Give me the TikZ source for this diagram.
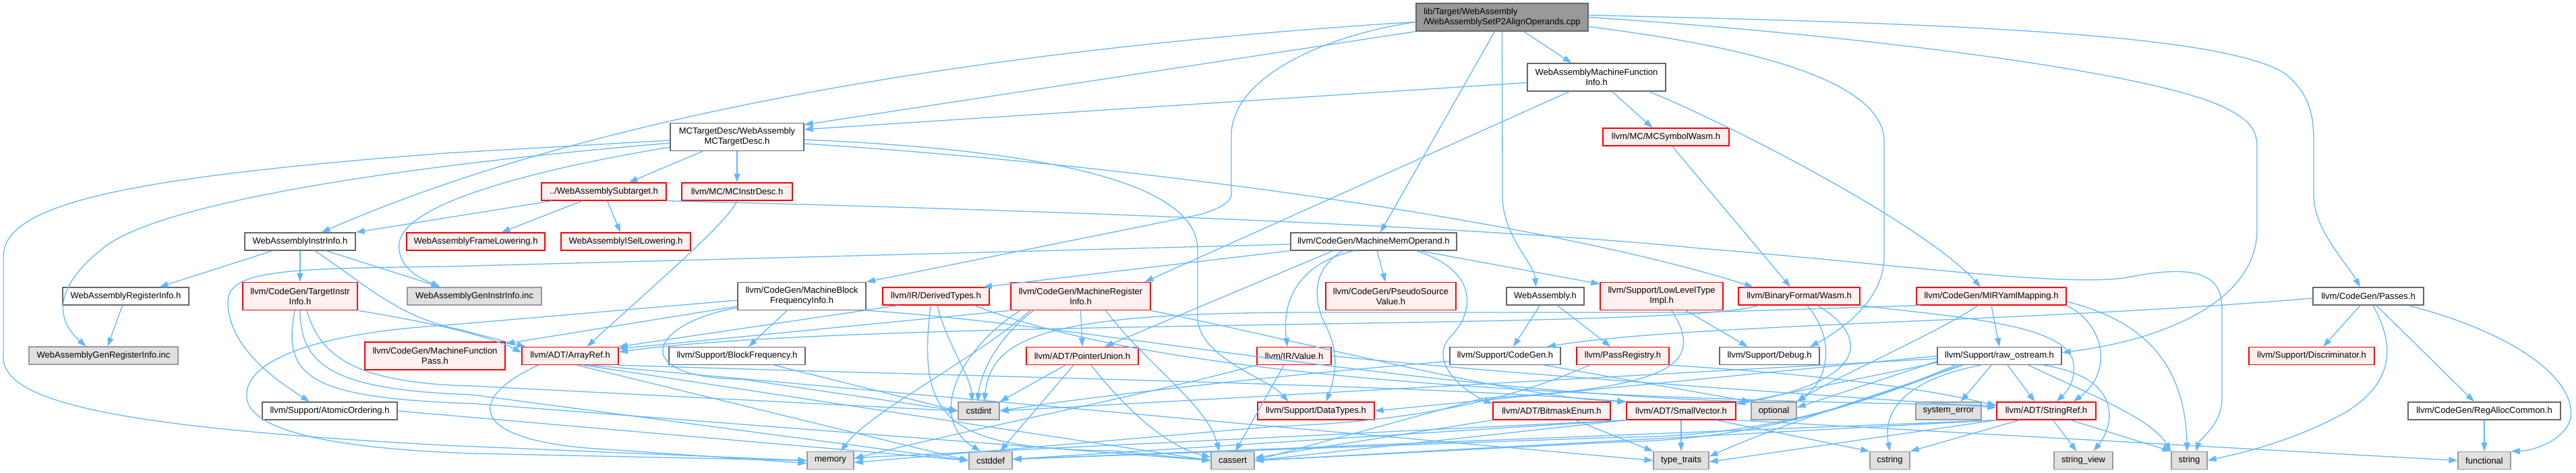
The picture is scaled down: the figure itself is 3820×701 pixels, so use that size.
\documentclass[tikz,border=0pt]{standalone}
\usepackage{fontspec}
\setmainfont{Liberation Sans}
\usetikzlibrary{arrows.meta}
\definecolor{edgeblue}{HTML}{63B8FF}
\definecolor{wborder}{HTML}{666666}
\definecolor{rfill}{HTML}{FFF0F0}
\definecolor{rborder}{HTML}{FF0000}
\definecolor{gfill}{HTML}{E0E0E0}
\definecolor{gborder}{HTML}{999999}
\definecolor{rootfill}{HTML}{999999}
\tikzset{
  box/.style={draw, line width=1.3pt, inner sep=0pt, minimum height=26pt, align=center,
    font=\fontsize{13}{15}\selectfont},
  wbox/.style={box, draw=wborder, fill=white},
  rbox/.style={box, draw=rborder, fill=rfill},
  gbox/.style={box, draw=gborder, fill=gfill},
  rootbox/.style={box, draw=wborder, fill=rootfill, align=left},
  two/.style={minimum height=41pt},
  dep/.style={draw=edgeblue, line width=1.3pt, -{Triangle[length=13pt,width=9pt]}}
}
\begin{document}
\begin{tikzpicture}[x=1pt,y=-1pt]
\fill[white] (0,0) rectangle (3820,701);
\useasboundingbox (0,0) rectangle (3820,701);

% nodes
\node[rootbox, two, minimum width=255pt] (root) at (2227.5,25.5) {lib/Target/WebAssembly\\/WebAssemblySetP2AlignOperands.cpp};
\node[wbox, two, minimum width=205pt] (wamfi) at (2367.5,114.5) {WebAssemblyMachineFunction\\Info.h};
\node[rbox, minimum width=187pt] (mcsym) at (2470.5,203) {llvm/MC/MCSymbolWasm.h};
\node[wbox, two, minimum width=198pt] (mctd) at (1093,203) {MCTargetDesc/WebAssembly\\MCTargetDesc.h};
\node[rbox, minimum width=185pt] (subt) at (895.5,284) {../WebAssemblySubtarget.h};
\node[rbox, minimum width=164pt] (mcid) at (1093,284) {llvm/MC/MCInstrDesc.h};
\node[wbox, minimum width=164pt] (instr) at (445,358) {WebAssemblyInstrInfo.h};
\node[rbox, minimum width=205pt] (frame) at (705.5,358) {WebAssemblyFrameLowering.h};
\node[rbox, minimum width=192pt] (isel) at (928,358) {WebAssemblyISelLowering.h};
\node[wbox, minimum width=187pt] (reginfo) at (186.5,439) {WebAssemblyRegisterInfo.h};
\node[gbox, minimum width=221pt] (genreg) at (153.5,527) {WebAssemblyGenRegisterInfo.inc};
\node[rbox, two, minimum width=170pt] (tii) at (445,439) {llvm/CodeGen/TargetInstr\\Info.h};
\node[gbox, minimum width=199pt] (geninstr) at (703.5,439) {WebAssemblyGenInstrInfo.inc};
\node[rbox, two, minimum width=208pt] (mfp) at (645,527.5) {llvm/CodeGen/MachineFunction\\Pass.h};
\node[rbox, minimum width=143pt] (arrayref) at (845.5,527.5) {llvm/ADT/ArrayRef.h};
\node[wbox, minimum width=200pt] (atomic) at (489,609) {llvm/Support/AtomicOrdering.h};
\node[wbox, two, minimum width=190pt] (mbfi) at (1189,439) {llvm/CodeGen/MachineBlock\\FrequencyInfo.h};
\node[wbox, minimum width=202pt] (blockfreq) at (1093,527.5) {llvm/Support/BlockFrequency.h};
\node[gbox, minimum width=69pt] (memory) at (1231.5,682.5) {memory};
\node[rbox, minimum width=158pt] (derived) at (1388,439) {llvm/IR/DerivedTypes.h};
\node[rbox, two, minimum width=207pt] (mri) at (1602.5,439) {llvm/CodeGen/MachineRegister\\Info.h};
\node[rbox, minimum width=166pt] (ptrunion) at (1605,527.5) {llvm/ADT/PointerUnion.h};
\node[rbox, minimum width=110pt] (value) at (1919,527.5) {llvm/IR/Value.h};
\node[gbox, minimum width=61pt] (cstdint) at (1451.5,609) {cstdint};
\node[gbox, minimum width=64pt] (cstddef) at (1469,682.5) {cstddef};
\node[gbox, minimum width=64pt] (cassert) at (1828,682.5) {cassert};
\node[rbox, minimum width=173pt] (datatypes) at (1951.5,609) {llvm/Support/DataTypes.h};
\node[wbox, minimum width=246pt] (mmo) at (2037,358) {llvm/CodeGen/MachineMemOperand.h};
\node[rbox, two, minimum width=193pt] (psv) at (2062.5,439) {llvm/CodeGen/PseudoSource\\Value.h};
\node[wbox, minimum width=115pt] (wah) at (2291.5,439) {WebAssembly.h};
\node[rbox, two, minimum width=182pt] (llt) at (2464,439) {llvm/Support/LowLevelType\\Impl.h};
\node[wbox, minimum width=164pt] (cgen) at (2232,527.5) {llvm/Support/CodeGen.h};
\node[rbox, minimum width=137pt] (passreg) at (2406.5,527.5) {llvm/PassRegistry.h};
\node[rbox, minimum width=174pt] (bitmask) at (2301,609) {llvm/ADT/BitmaskEnum.h};
\node[rbox, minimum width=162pt] (smallvec) at (2493,609) {llvm/ADT/SmallVector.h};
\node[gbox, minimum width=82pt] (typetraits) at (2493,682.5) {type\_traits};
\node[rbox, minimum width=180pt] (wasm) at (2668,439) {llvm/BinaryFormat/Wasm.h};
\node[rbox, minimum width=222pt] (miryaml) at (2953,439) {llvm/CodeGen/MIRYamlMapping.h};
\node[wbox, minimum width=148pt] (debug) at (2624,527.5) {llvm/Support/Debug.h};
\node[wbox, minimum width=184pt] (rawos) at (2965,527.5) {llvm/Support/raw\_ostream.h};
\node[gbox, minimum width=67pt] (optional) at (2630.5,609) {optional};
\node[gbox, minimum width=97pt] (syserr) at (2889.5,609) {system\_error};
\node[rbox, minimum width=147pt] (stringref) at (3034.5,609) {llvm/ADT/StringRef.h};
\node[gbox, minimum width=59pt] (cstring) at (2802.5,682.5) {cstring};
\node[gbox, minimum width=87pt] (strview) at (3089.5,682.5) {string\_view};
\node[wbox, minimum width=164pt] (passes) at (3512,439) {llvm/CodeGen/Passes.h};
\node[rbox, minimum width=186pt] (discr) at (3428,527.5) {llvm/Support/Discriminator.h};
\node[wbox, minimum width=226pt] (regalloc) at (3684,609) {llvm/CodeGen/RegAllocCommon.h};
\node[gbox, minimum width=53pt] (string) at (3246.5,682.5) {string};
\node[gbox, minimum width=78pt] (functional) at (3684,682.5) {functional};

% root
\draw[dep] (root.south west) -- ([yshift=-3pt]mctd.north east);
\draw[dep] ([yshift=-7pt]root.west) .. controls (1500,70) and (900,160) .. ([xshift=-51pt]instr.north east);
\draw[dep] ([yshift=-7pt]root.west) .. controls (1950,55) and (1826,120) .. (1826,200) -- (1826,287) .. controls (1826,300) and (1810,308) .. (1780,318) -- (mbfi.north east);
\draw[dep] ([xshift=32pt]root.south) -- ([xshift=-37pt]wamfi.north);
\draw[dep] ([xshift=-11pt]root.south) -- ([xshift=10pt]mmo.north);
\draw[dep] (root.south) -- (2228,290) .. controls (2228,350) and (2275,390) .. ([xshift=-14pt]wah.north);
\draw[dep] ([yshift=3pt]root.east) .. controls (2900,35) and (3300,50) .. (3390,110) .. controls (3425,140) and (3431,170) .. (3431,210) -- (3431,290) .. controls (3431,340) and (3480,390) .. ([xshift=-12pt]passes.north);
\draw[dep] (root.east) .. controls (2800,55) and (3200,110) .. (3300,160) .. controls (3340,180) and (3347,195) .. (3347,220) -- (3347,340) .. controls (3347,450) and (3200,505) .. ([yshift=5pt]rawos.east);
\draw[dep] ([yshift=-14pt]root.east) .. controls (2600,70) and (2794,120) .. (2794,210) -- (2794,380) .. controls (2794,450) and (2720,495) .. ([xshift=60pt]debug.north);

% wamfi
\draw[dep] ([yshift=-8pt]wamfi.west) -- ([yshift=-10pt]mctd.north east);
\draw[dep] ([xshift=-40pt]wamfi.south) -- ([xshift=95pt]mri.north);
\draw[dep] ([xshift=23pt]wamfi.south) -- ([xshift=-20pt]mcsym.north);
\draw[dep] ([xshift=78pt]wamfi.south) .. controls (2600,200) and (2860,340) .. ([xshift=-16pt]miryaml.north);
\draw[dep] ([xshift=9pt]mcsym.south) -- ([xshift=-13pt]wasm.north);

% mctd
\draw[dep] ([xshift=-51pt]mctd.south) -- ([xshift=37pt]subt.north);
\draw[dep] (mctd.south) -- (mcid.north);
\draw[dep] ([yshift=-5pt]mctd.west) -- (660,227) .. controls (200,262) and (5,300) .. (5,380) -- (5,530) .. controls (5,600) and (200,635) .. (660,660) -- (memory.west);
\draw[dep] ([yshift=-9pt]mctd.west) .. controls (600,245) and (230,300) .. (150,370) .. controls (70,435) and (90,480) .. ([xshift=-26pt]genreg.north);
\draw[dep] ([yshift=-15pt]mctd.west) .. controls (800,250) and (600,300) .. (592,360) .. controls (588,400) and (630,415) .. ([xshift=-51pt]geninstr.north);
\draw[dep] ([yshift=-4pt]mctd.east) .. controls (1550,222) and (1776,270) .. (1776,370) -- (1776,470) .. controls (1776,530) and (1880,560) .. ([xshift=-41pt]datatypes.north);
\draw[dep] ([yshift=-10pt]mctd.east) .. controls (1700,245) and (2300,330) .. ([xshift=-68pt]wasm.north);

% subtarget
\draw[dep] ([xshift=-77pt]subt.south) -- (instr.north east);
\draw[dep] ([xshift=-32pt]subt.south) -- ([xshift=38pt]frame.north);
\draw[dep] ([xshift=5pt]subt.south) -- ([xshift=-8pt]isel.north);
\draw[dep] (subt.south east) .. controls (1500,310) and (2200,335) .. (2520,368) .. controls (2800,390) and (3050,425) .. (3150,412) .. controls (3280,385) and (3295,420) .. (3295,460) -- (3295,590) .. controls (3295,630) and (3262,650) .. ([xshift=10pt]string.north);

% mcinstrdesc
\draw[dep] (mcid.south) .. controls (1080,330) and (950,440) .. ([xshift=25pt]arrayref.north);

% instrinfo
\draw[dep] ([xshift=-41pt]instr.south) -- ([xshift=50pt]reginfo.north);
\draw[dep] (instr.south) -- (tii.north);
\draw[dep] ([xshift=39pt]instr.south) -- ([xshift=-51pt]geninstr.north);
\draw[dep] ([xshift=22pt]instr.south) .. controls (540,420) and (590,470) .. (680,488) -- ([xshift=-66pt]arrayref.north);
\draw[dep] ([xshift=-5pt]reginfo.south) -- ([xshift=6pt]genreg.north);

% targetinstrinfo
\draw[dep] (tii.south east) .. controls (620,475) and (720,495) .. ([yshift=5pt]arrayref.west);
\draw[dep] ([xshift=10pt]tii.south) .. controls (475,530) and (530,568) .. (700,572) -- (cstdint.west);
\draw[dep] (tii.south) .. controls (445,545) and (500,578) .. (700,585) -- (cstddef.west);
\draw[dep] ([xshift=-8pt]tii.south) .. controls (420,555) and (450,590) .. (700,598) -- (cassert.west);
\draw[dep] (atomic.east) -- (cstddef.west);

% mbfi
\draw[dep] ([xshift=-22pt]mbfi.south) -- ([xshift=17pt]blockfreq.north);
\draw[dep] ([yshift=-15pt]mbfi.west) -- ([yshift=-3pt]mfp.north east);
\draw[dep] ([yshift=-6pt]mbfi.west) -- (660,482) .. controls (450,495) and (360,540) .. (366,590) .. controls (372,640) and (500,665) .. (700,672) -- (memory.west);
\draw[dep] ([yshift=-17pt]mbfi.west) .. controls (960,480) and (930,560) .. (1100,562) -- (cstdint.west);
\draw[dep] (mbfi.south east) .. controls (1600,480) and (2100,580) .. (optional.north west);
\draw[dep] ([xshift=55pt]blockfreq.south) -- (cstdint.west);

% derived types
\draw[dep] ([xshift=-56pt]derived.south) -- (arrayref.north east);
\draw[dep] ([xshift=2pt]derived.south) .. controls (1400,500) and (1440,560) .. ([xshift=-10pt]cstdint.north);
\draw[dep] ([xshift=-8pt]derived.south) .. controls (1360,620) and (1400,665) .. (1650,668) -- (cassert.west);
\draw[dep] ([xshift=57pt]derived.south) .. controls (1720,560) and (2300,590) .. ([yshift=8pt]stringref.west);

% machine register info
\draw[dep] (mri.south west) -- ([yshift=-3pt]arrayref.north east);
\draw[dep] (mri.south) -- (ptrunion.north);
\draw[dep] ([xshift=37pt]mri.south) .. controls (1700,540) and (1790,600) .. ([xshift=-20pt]cassert.north);
\draw[dep] ([xshift=-70pt]mri.south) .. controls (1480,500) and (1455,550) .. ([xshift=-2pt]cstdint.north);
\draw[dep] ([xshift=-90pt]mri.south) .. controls (1420,520) and (1375,620) .. ([xshift=-15pt]cstddef.north);
\draw[dep] ([xshift=-75pt]mri.south) .. controls (1450,530) and (1290,610) .. ([xshift=15pt]memory.north);
\draw[dep] (mri.south east) .. controls (1950,510) and (2250,590) .. (smallvec.north west);

% pointer union
\draw[dep] ([xshift=-25pt]ptrunion.south) -- (cstdint.north east);
\draw[dep] ([xshift=-13pt]ptrunion.south) -- ([xshift=14pt]cstddef.north);
\draw[dep] ([xshift=13pt]ptrunion.south) .. controls (1680,620) and (1740,665) .. ([yshift=5pt]cassert.west);

% value
\draw[dep] ([xshift=-15pt]value.south) -- ([xshift=4pt]cassert.north);
\draw[dep] (value.south west) .. controls (1700,585) and (1420,640) .. ([yshift=3pt]memory.east);
\draw[dep] (value.east) .. controls (2300,560) and (2700,585) .. ([yshift=5pt]stringref.west);

% machine mem operand
\draw[dep] ([yshift=-4pt]mmo.west) -- (660,395) .. controls (420,398) and (335,400) .. (338,450) .. controls (340,520) and (420,570) .. ([xshift=-30pt]atomic.north);
\draw[dep] (mmo.south west) -- ([xshift=70pt]derived.north);
\draw[dep] ([xshift=-29pt]mmo.south) .. controls (1930,390) and (1900,440) .. ([xshift=-10pt]value.north);
\draw[dep] ([xshift=-46pt]mmo.south) .. controls (1945,400) and (1950,440) .. (1960,470) .. controls (1975,500) and (1990,530) .. ([xshift=15pt]datatypes.north);
\draw[dep] ([xshift=5pt]mmo.south) -- ([xshift=-8pt]psv.north);
\draw[dep] ([xshift=63pt]mmo.south) .. controls (2190,400) and (2190,460) .. (2150,500) .. controls (2115,540) and (2180,585) .. ([yshift=-3pt]bitmask.north west);
\draw[dep] ([xshift=68pt]mmo.south) -- ([yshift=-3pt]llt.north west);
\draw[dep] ([xshift=-60pt]mmo.south) -- ([xshift=33pt]ptrunion.north);

% webassembly.h
\draw[dep] ([xshift=-8pt]wah.south) -- ([xshift=12pt]cgen.north);
\draw[dep] ([xshift=18pt]wah.south) -- ([xshift=-18pt]passreg.north);

% low level type
\draw[dep] ([xshift=36pt]llt.south) -- ([xshift=-32pt]debug.north);
\draw[dep] ([xshift=15pt]llt.south) .. controls (2530,540) and (2480,575) .. (2200,590) -- (cassert.east);

% codegen.h
\draw[dep] ([yshift=-8pt]cgen.west) .. controls (1900,555) and (1600,590) .. (cstdint.east);
\draw[dep] ([xshift=58pt]cgen.south) -- (optional.north west);

% pass registry
\draw[dep] (passreg.south east) .. controls (2700,555) and (2850,575) .. ([yshift=8pt]stringref.west);
\draw[dep] ([xshift=-50pt]passreg.south) .. controls (2250,590) and (2100,625) .. (1890,632) -- ([yshift=-3pt]memory.east);

% bitmask, smallvector
\draw[dep] ([xshift=35pt]bitmask.south) -- (typetraits.north west);
\draw[dep] (bitmask.south west) -- ([yshift=4pt]cassert.east);
\draw[dep] (smallvec.south) -- (typetraits.north);
\draw[dep] ([xshift=52pt]smallvec.south) -- (cstring.north west);
\draw[dep] (smallvec.south east) -- (functional.west);
\draw[dep] (smallvec.south west) -- (cassert.east);
\draw[dep] (smallvec.south west) -- ([yshift=2pt]cstddef.east);
\draw[dep] (smallvec.south west) -- ([yshift=4pt]memory.east);

% wasm.h
\draw[dep] ([xshift=30pt]wasm.south west) .. controls (2500,490) and (1300,470) .. ([yshift=6pt]arrayref.east);
\draw[dep] ([xshift=12pt]wasm.south) .. controls (2720,500) and (2715,560) .. (optional.north east);
\draw[dep] ([xshift=27pt]wasm.south) .. controls (2775,500) and (2770,565) .. ([yshift=-3pt]smallvec.north east);
\draw[dep] (wasm.south east) .. controls (2900,470) and (3070,480) .. (3075,540) .. controls (3078,570) and (3060,585) .. ([xshift=15pt]stringref.north);

% mir yaml mapping
\draw[dep] (miryaml.south) -- (rawos.north);
\draw[dep] ([xshift=-20pt]miryaml.south) .. controls (2880,490) and (2720,560) .. (optional.north east);
\draw[dep] (miryaml.south east) .. controls (3120,480) and (3135,550) .. ([xshift=40pt]stringref.north);
\draw[dep] ([yshift=-8pt]miryaml.east) .. controls (3200,480) and (3240,560) .. ([xshift=-3pt]string.north);
\draw[dep] ([xshift=-105pt]miryaml.south) -- (2520,463) -- (1920,463) .. controls (1550,465) and (1470,500) .. ([xshift=8pt]cstdint.north);

% raw_ostream
\draw[dep] ([xshift=-12pt]rawos.south) -- ([xshift=18pt]syserr.north);
\draw[dep] ([xshift=12pt]rawos.south) -- ([xshift=-17pt]stringref.north);
\draw[dep] ([xshift=-28pt]rawos.south) .. controls (2840,560) and (2790,600) .. (cstring.north);
\draw[dep] ([xshift=65pt]rawos.south) .. controls (3150,560) and (3135,630) .. ([xshift=15pt]strview.north);
\draw[dep] ([xshift=43pt]rawos.south) .. controls (3100,585) and (3190,620) .. (string.north west);
\draw[dep] (rawos.west) -- (datatypes.east);
\draw[dep] ([yshift=-4pt]rawos.west) -- (cstdint.east);
\draw[dep] ([yshift=-8pt]rawos.west) -- ([yshift=5pt]optional.east);
\draw[dep] ([yshift=-10pt]rawos.west) -- ([yshift=-3pt]smallvec.north east);
\draw[dep] ([xshift=-54pt]rawos.south) .. controls (2800,580) and (2650,625) .. ([yshift=6pt]typetraits.east);
\draw[dep] ([xshift=-60pt]rawos.south) .. controls (2760,600) and (2600,652) .. (2400,655) -- (cassert.east);
\draw[dep] ([xshift=-66pt]rawos.south) .. controls (2750,605) and (2600,648) .. (2400,648) -- ([yshift=2pt]cstddef.east);

% stringref
\draw[dep] ([xshift=10pt]stringref.south) -- ([xshift=-10pt]strview.north);
\draw[dep] ([xshift=-40pt]stringref.south) -- (cstring.north east);
\draw[dep] ([xshift=36pt]stringref.south) -- (string.north west);
\draw[dep] (stringref.south west) -- ([yshift=-2pt]typetraits.east);
\draw[dep] (stringref.south west) -- (cassert.east);
\draw[dep] (stringref.south west) -- ([yshift=2pt]cstddef.east);

% arrayref
\draw[dep] ([xshift=-47pt]arrayref.south) .. controls (690,590) and (690,655) .. (900,666) -- ([yshift=-4pt]memory.west);
\draw[dep] (arrayref.south east) .. controls (1500,560) and (2100,570) .. (smallvec.north west);
\draw[dep] ([xshift=20pt]arrayref.south) -- (cassert.west);
\draw[dep] ([xshift=10pt]arrayref.south) -- (cstddef.west);
\draw[dep] ([xshift=30pt]arrayref.south) -- (typetraits.west);

% passes
\draw[dep] ([yshift=-3pt]passes.west) .. controls (3000,478) and (2500,480) .. ([xshift=62pt]cgen.north);
\draw[dep] ([xshift=-12pt]passes.south) -- ([xshift=17pt]discr.north);
\draw[dep] ([xshift=12pt]passes.south) -- ([xshift=-15pt]regalloc.north);
\draw[dep] ([xshift=60pt]passes.south) .. controls (3750,500) and (3820,570) .. (3812,620) .. controls (3805,650) and (3760,668) .. (functional.north east);
\draw[dep] ([xshift=7pt]passes.south) .. controls (3545,500) and (3560,560) .. (3480,610) .. controls (3400,655) and (3320,672) .. (string.east);
\draw[dep] (regalloc.south) -- (functional.north);
\end{tikzpicture}
\end{document}
